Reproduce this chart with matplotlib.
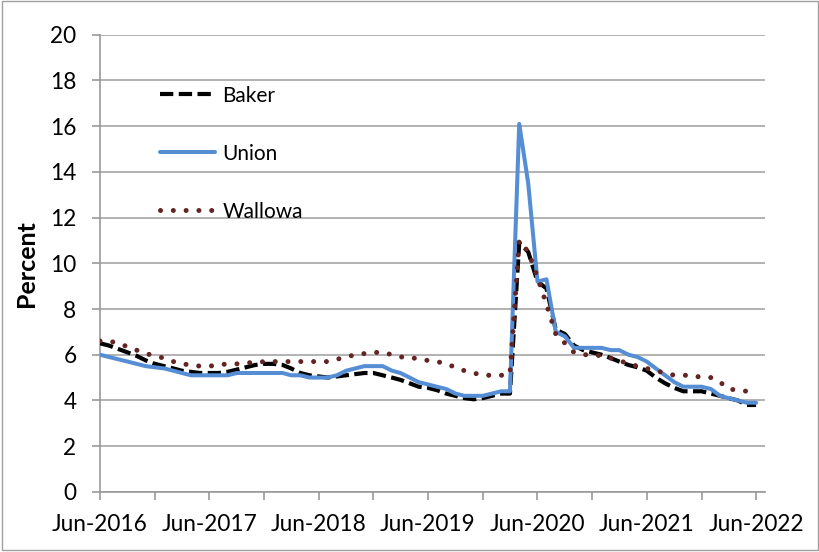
import numpy as np
import pandas as pd
import matplotlib
matplotlib.use("Agg")
import matplotlib.pyplot as plt
import matplotlib.dates as mdates
from matplotlib.patches import Rectangle

# monthly, Jun-2016 .. Jun-2022
months = pd.date_range("2016-06-01", "2022-06-01", freq="MS")

baker = [6.5, 6.4, 6.25, 6.1, 5.95, 5.75, 5.6, 5.5, 5.4, 5.3, 5.25, 5.2,
         5.2, 5.2, 5.25, 5.35, 5.45, 5.55, 5.6, 5.6, 5.55, 5.4, 5.2, 5.1,
         5.05, 5.0, 5.05, 5.1, 5.15, 5.2, 5.2, 5.1, 5.0, 4.9, 4.75, 4.6,
         4.55, 4.45, 4.3, 4.2, 4.1, 4.05, 4.1, 4.2, 4.3, 4.3, 10.9, 10.5,
         9.2, 8.9, 7.1, 6.9, 6.4, 6.2, 6.1, 6.0, 5.85, 5.7, 5.55, 5.45,
         5.3, 5.0, 4.75, 4.55, 4.4, 4.4, 4.4, 4.3, 4.2, 4.1, 4.0, 3.8, 3.8]

union = [6.0, 5.9, 5.8, 5.7, 5.6, 5.5, 5.45, 5.4, 5.3, 5.2, 5.1, 5.1,
         5.1, 5.1, 5.1, 5.2, 5.2, 5.2, 5.2, 5.2, 5.2, 5.1, 5.1, 5.0,
         5.0, 5.0, 5.1, 5.3, 5.4, 5.5, 5.5, 5.5, 5.3, 5.2, 5.0, 4.8,
         4.7, 4.6, 4.5, 4.3, 4.2, 4.2, 4.2, 4.3, 4.4, 4.4, 16.1, 13.5,
         9.2, 9.3, 7.0, 6.8, 6.3, 6.3, 6.3, 6.3, 6.2, 6.2, 6.0, 5.9,
         5.7, 5.4, 5.1, 4.8, 4.6, 4.6, 4.6, 4.5, 4.2, 4.1, 4.0, 3.9, 3.9]

wallowa = [6.6, 6.6, 6.5, 6.35, 6.2, 6.05, 5.95, 5.85, 5.7, 5.6, 5.55, 5.5,
           5.5, 5.55, 5.6, 5.6, 5.65, 5.65, 5.7, 5.7, 5.7, 5.7, 5.7, 5.7,
           5.7, 5.7, 5.8, 5.9, 6.0, 6.05, 6.1, 6.1, 6.0, 5.9, 5.9, 5.8,
           5.75, 5.7, 5.6, 5.45, 5.3, 5.2, 5.1, 5.1, 5.1, 5.15, 11.0, 10.5,
           9.4, 8.2, 6.9, 6.5, 6.1, 6.0, 6.0, 5.95, 5.85, 5.75, 5.6, 5.5,
           5.4, 5.3, 5.2, 5.1, 5.1, 5.1, 5.0, 5.0, 4.8, 4.5, 4.45, 4.4, 4.4]

plt.rcParams['font.family'] = ['Lato', 'DejaVu Sans']

fig = plt.figure(figsize=(8.2, 5.52), dpi=100)
ax = fig.add_axes([0.122, 0.109, 0.811, 0.828])

ax.plot(months, baker, color='black', linewidth=3.0, linestyle=(0, (3.2, 1.3)),
        dash_capstyle='butt', label='Baker', zorder=3)
ax.plot(months, union, color='#558ED5', linewidth=2.9, linestyle='-',
        solid_capstyle='round', label='Union', zorder=4)
ax.plot(months, wallowa, color='#632523', linewidth=3.6, linestyle=(0, (0.01, 2.55)),
        dash_capstyle='round', label='Wallowa', zorder=5)

ax.set_ylim(0, 20)
ax.set_yticks(np.arange(0, 21, 2))
ax.set_xlim(months[0], pd.Timestamp("2022-07-01"))

ax.xaxis.set_major_locator(mdates.MonthLocator(bymonth=6))
ax.xaxis.set_major_formatter(mdates.DateFormatter("%b-%Y"))
ax.xaxis.set_minor_locator(mdates.MonthLocator(bymonth=12))

ax.grid(axis='y', color='#a6a6a6', linewidth=1.2)
ax.set_axisbelow(True)
for s in ['top', 'right']:
    ax.spines[s].set_visible(False)
for s in ['left', 'bottom']:
    ax.spines[s].set_color('#999999')
    ax.spines[s].set_linewidth(1.2)

ax.tick_params(axis='both', which='both', direction='out', length=6, width=1.2,
               color='#999999', labelsize=16.3)
ax.tick_params(axis='x', pad=10)
ax.tick_params(axis='y', pad=11)

ax.set_ylabel('Percent', fontsize=18, fontweight='bold', labelpad=9)

ax.legend(loc='upper left', bbox_to_anchor=(0.09, 0.889), frameon=False,
          fontsize=15, handlelength=2.65, handletextpad=0.34, labelspacing=1.83,
          borderpad=0, borderaxespad=0)

fig.patches.append(Rectangle((0.002, 0.004), 0.996, 0.994, transform=fig.transFigure,
                             fill=False, edgecolor='#a0a0a0', linewidth=1.0))

fig.savefig("out.png", dpi=100)
